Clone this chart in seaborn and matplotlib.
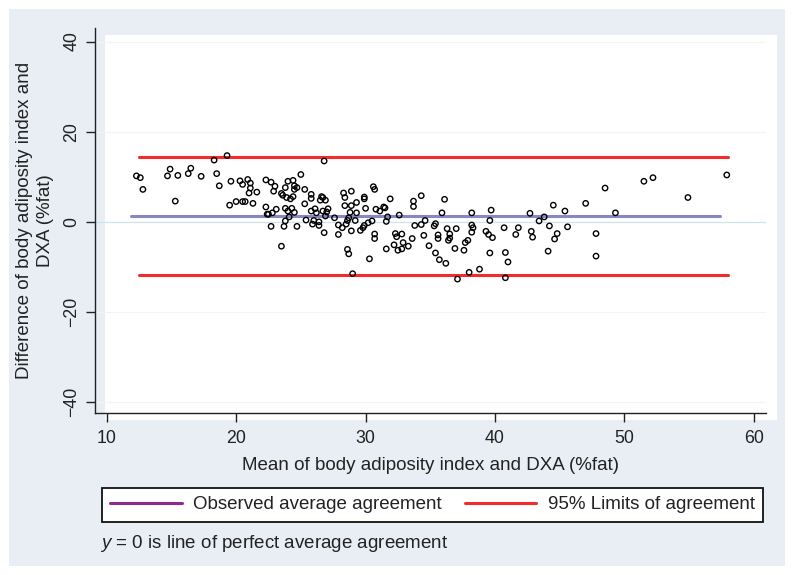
import matplotlib
matplotlib.use("Agg")
import matplotlib.pyplot as plt
import seaborn as sns
import pandas as pd
from matplotlib.patches import Rectangle
from matplotlib.lines import Line2D

# mean of the two methods (%fat) and their difference
mean_fat = [12.3, 12.6, 12.8, 14.7, 14.9, 15.3, 15.5, 16.3, 16.5, 17.3, 18.3, 18.5, 18.7, 19.3, 19.5,
            19.6, 20.0, 20.3, 20.5, 20.5, 20.7, 20.9, 21.0, 21.1, 21.1, 21.3, 21.6, 22.3, 22.3, 22.4,
            22.5, 22.7, 22.7, 22.8, 22.9, 23.0, 23.1, 23.5, 23.5, 23.6, 23.7, 23.8, 23.8, 23.9, 24.0,
            23.8, 24.0, 24.1, 24.2, 24.3, 24.4, 24.4, 24.5, 24.5, 24.5, 24.7, 24.7, 25.0, 25.3, 25.3,
            25.4, 25.8, 25.8, 25.8, 25.9, 26.0, 26.1, 26.2, 26.4, 26.4, 26.5, 26.6, 26.7, 26.7, 26.8,
            26.8, 26.9, 26.9, 27.0, 27.1, 27.6, 27.9, 27.9, 28.2, 28.3, 28.4, 28.4, 28.5, 28.6, 28.6,
            28.7, 28.7, 28.8, 28.9, 28.9, 28.9, 29.0, 29.2, 29.3, 29.3, 29.6, 29.8, 29.9, 29.9, 29.9,
            30.0, 30.2, 30.3, 30.5, 30.6, 30.7, 30.7, 30.7, 30.8, 31.1, 31.4, 31.5, 31.6, 31.6, 31.7,
            31.9, 32.2, 32.3, 32.4, 32.5, 32.6, 32.8, 32.8, 32.9, 33.3, 33.6, 33.7, 33.7, 33.8, 34.3,
            34.3, 34.5, 34.6, 34.9, 35.3, 35.4, 35.4, 35.6, 35.6, 35.7, 35.9, 36.1, 36.2, 36.3, 36.4,
            36.5, 36.5, 36.9, 37.0, 37.1, 37.6, 37.7, 37.9, 38.0, 38.2, 38.2, 38.2, 38.3, 38.8, 39.3,
            39.5, 39.6, 39.6, 39.7, 39.8, 40.7, 40.8, 40.8, 41.0, 41.6, 41.8, 42.7, 42.8, 42.9, 43.4,
            43.8, 44.1, 44.2, 44.5, 44.6, 44.8, 45.4, 45.6, 47.0, 47.8, 47.8, 48.5, 49.3, 51.5, 52.2,
            54.9, 57.9]
diff_fat = [10.2, 9.8, 7.2, 10.2, 11.7, 4.6, 10.3, 10.7, 11.9, 10.1, 13.7, 10.7, 8.0, 14.7, 3.7,
            9.0, 4.5, 9.1, 4.5, 8.3, 4.5, 9.4, 6.4, 7.5, 8.6, 4.1, 6.6, 9.3, 3.3, 1.7,
            1.7, 8.8, -1.0, 2.0, 6.8, 7.9, 2.8, -5.4, 6.3, 5.9, -1.0, 3.0, 7.6, 5.4, 9.0,
            0.2, 2.4, 1.1, 5.1, 3.0, 9.2, 5.6, 7.2, 8.0, 2.1, -1.0, 7.6, 10.5, 4.0, 7.2,
            0.4, 6.1, 5.2, 2.4, -0.5, 0.3, 2.9, 2.0, 0.0, -0.8, 4.8, 5.6, 2.4, 5.4, 13.5,
            -2.4, 1.3, 4.8, 2.2, 2.9, 0.9, -0.7, -2.8, -1.3, 6.4, 5.4, 3.6, -0.5, 0.3, -6.1,
            0.9, -7.1, 2.1, -2.0, 6.8, 3.6, -11.5, 0.3, 4.3, 2.0, -1.9, -1.3, 5.5, -0.8, 5.1,
            3.0, -0.2, -8.2, 0.2, 7.8, -2.7, 7.2, -3.7, 2.8, 2.4, 3.3, 3.1, -6.0, 0.1, 1.1,
            5.1, -5.1, -2.6, -3.3, -6.3, 1.5, -6.0, -2.7, -4.6, -5.4, -3.7, 4.6, 3.4, -0.8, 5.8,
            -0.6, -3.0, 0.3, -5.3, -0.9, -6.9, -0.4, -3.7, -2.9, -8.4, 2.0, 5.0, -9.2, -1.5, -4.1,
            -2.7, -3.6, -5.9, -1.5, -12.7, -6.3, -4.6, -4.1, -11.2, 2.0, -2.3, -0.7, -1.3, -10.5, -2.1,
            -2.8, -6.9, 0.3, 2.6, -3.5, -1.3, -6.8, -12.4, -8.9, -2.8, -1.3, 1.9, -2.1, -3.4, 0.2,
            1.1, -6.5, -0.9, 3.7, -3.8, -2.6, 2.4, -1.1, 4.1, -2.6, -7.6, 7.5, 2.0, 9.0, 9.8,
            5.4, 10.4]

# agreement lines
mean_diff = 1.2
loa_upper = 14.4
loa_lower = -11.7
mean_line_x = [11.9, 57.4]
loa_line_x = [12.5, 58.0]

x_ticks = [10, 20, 30, 40, 50, 60]
y_ticks = [-40, -20, 0, 20, 40]

df = pd.DataFrame({"mean": mean_fat, "diff": diff_fat})

sns.set_style("white")
plt.rcParams["font.family"] = ["Liberation Sans", "DejaVu Sans"]
plt.rcParams["mathtext.fontset"] = "custom"
plt.rcParams["mathtext.it"] = "Liberation Sans:italic"
plt.rcParams["mathtext.rm"] = "Liberation Sans"

W, H = 795, 575
fig = plt.figure(figsize=(W / 100, H / 100), dpi=100, facecolor="white")

def fx(px):
    return px / W

def fy(py):
    return 1 - py / H

# light grey-blue graph region and white plot region (Stata look)
fig.patches.append(Rectangle((fx(9), fy(566)), fx(776), (566 - 9) / H, transform=fig.transFigure,
                             facecolor="#e9eef5", edgecolor="none", zorder=-2))
fig.patches.append(Rectangle((fx(105), fy(420)), fx(672), (420 - 35) / H, transform=fig.transFigure,
                             facecolor="white", edgecolor="none", zorder=-1))

ax = fig.add_axes([fx(95), fy(413), fx(766 - 95), (413 - 28) / H])
ax.set_facecolor("none")
ax.set_zorder(2)

ax.axhline(0, color="#cfe3ea", lw=0.9, zorder=1)
for yt in y_ticks:
    ax.axhline(yt, color="#f4f4f4", lw=0.8, zorder=0.5)

sns.lineplot(x=mean_line_x, y=[mean_diff, mean_diff], color="#8a86c6", lw=2.2, ax=ax, zorder=2)
sns.lineplot(x=loa_line_x, y=[loa_upper, loa_upper], color="#f52a2a", lw=2.2, ax=ax, zorder=2)
sns.lineplot(x=loa_line_x, y=[loa_lower, loa_lower], color="#f52a2a", lw=2.2, ax=ax, zorder=2)

sns.scatterplot(data=df, x="mean", y="diff", marker="o", s=15, facecolor="none",
                edgecolor="black", linewidth=1.0, ax=ax, zorder=3)

ax.set_xlim(9.1, 60.93)
ax.set_ylim(-42.4, 43.0)
ax.set_xticks(x_ticks)
ax.set_yticks(y_ticks)
ax.set_yticklabels([str(t).replace("-", "\u2212") for t in y_ticks], rotation=90, va="center")

for side in ["top", "right"]:
    ax.spines[side].set_visible(False)
for side in ["left", "bottom"]:
    ax.spines[side].set_color("#222222")
    ax.spines[side].set_linewidth(1.0)

ax.tick_params(axis="both", direction="out", length=6.5, width=1.0, color="#222222",
               labelsize=12.8, labelcolor="#222222", left=True, bottom=True)
ax.tick_params(axis="x", pad=6)
ax.tick_params(axis="y", pad=4)

ax.set_xlabel("Mean of body adiposity index and DXA (%fat)", fontsize=13.5, color="#222222", labelpad=7)
ax.set_ylabel("Difference of body adiposity index and\nDXA (%fat)", fontsize=13.5, color="#222222",
              labelpad=7, linespacing=1.25)

handles = [Line2D([], [], color="#8e2a8e", lw=2.2), Line2D([], [], color="#f52a2a", lw=2.2)]
leg = fig.legend(handles, ["Observed average agreement", "95% Limits of agreement"],
                 loc="center left", bbox_to_anchor=(fx(102), fy(522), fx(661), 35 / H),
                 ncol=2, mode="expand", fontsize=13.5, frameon=True, fancybox=False,
                 framealpha=1, facecolor="white",
                 handlelength=3.8, handletextpad=0.6, borderaxespad=0, borderpad=0.45)
leg.get_frame().set_edgecolor("#111111")
leg.get_frame().set_linewidth(1.3)
for t in leg.get_texts():
    t.set_color("#222222")

fig.text(fx(100), fy(543), "$y$ = 0 is line of perfect average agreement", fontsize=13.5,
         color="#222222", va="center", ha="left")

fig.savefig("out.png", dpi=100)
